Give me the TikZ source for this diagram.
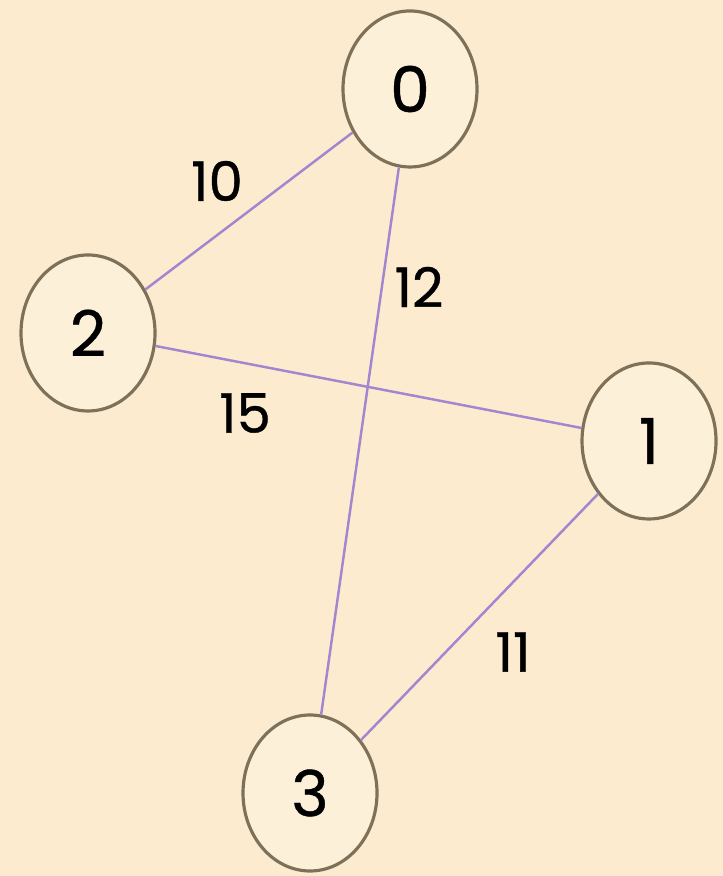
\documentclass[tikz,border=0pt]{standalone}
\usepackage{fontspec}
\setmainfont{Poppins}
\newfontfamily\numfont{Poppins}[FakeBold=0.7]
\usetikzlibrary{shapes.geometric, positioning}

\definecolor{bgcream}{HTML}{FCEBCF}
\definecolor{vfill}{HTML}{FDF0D8}
\definecolor{vline}{HTML}{7D7259}
\definecolor{epurple}{HTML}{A286CF}

\begin{document}
\begin{tikzpicture}[
    vertex/.style={ellipse, draw=vline, line width=0.9pt, fill=vfill, inner sep=0pt, minimum width=1.34cm, minimum height=1.56cm, font=\numfont\fontsize{18}{20}\selectfont},
    wedge/.style={draw=epurple, line width=0.7pt},
    weight/.style={font=\numfont\fontsize{15.5}{18}\selectfont, inner sep=0pt}
]

% background / canvas
\fill[bgcream] (0, 0) rectangle (7.23, 8.76);
\useasboundingbox (0, 0) rectangle (7.23, 8.76);

% Vertices
\node[vertex] (v0) at (4.10, 7.87) {0};
\node[vertex] (v2) at (0.88, 5.43) {2};
\node[vertex] (v1) at (6.49, 4.35) {1};
\node[vertex] (v3) at (3.10, 0.83) {3};

% Edges
\draw[wedge] (v0) -- (v2);
\draw[wedge] (v0) -- (v3);
\draw[wedge] (v2) -- (v1);
\draw[wedge] (v1) -- (v3);

% Weights
\node[weight] (w02) at (2.17, 6.95) {10};
\node[weight] (w03) at (4.19, 5.89) {12};
\node[weight] (w21) at (2.45, 4.63) {15};
\node[weight] (w13) at (5.13, 2.24) {11};

\end{tikzpicture}
\end{document}
